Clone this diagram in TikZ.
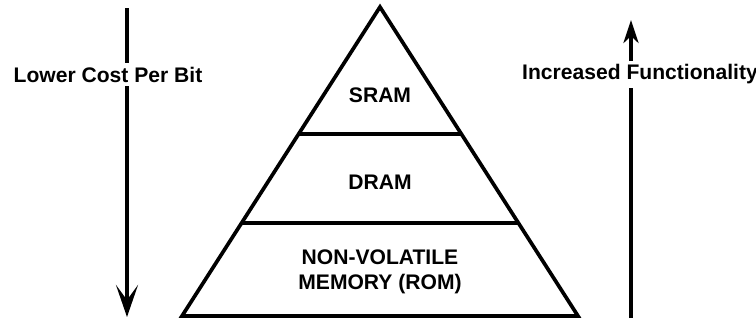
\documentclass[tikz,border=0pt]{standalone}
\usepackage{fontspec}
\setmainfont{Liberation Sans}
\usepackage{tikz}
\usetikzlibrary{arrows.meta,positioning,calc}
\tikzset{edge/.style={line width=2.1pt,line cap=butt,line join=miter},
  lbl/.style={font=\fontsize{12}{14}\selectfont\bfseries,align=center,inner sep=2pt},
  side/.style={lbl,fill=white,inner xsep=1pt}}

\begin{document}
\begin{tikzpicture}
  \useasboundingbox (0,0) rectangle (15.12,6.4);
  \coordinate (apex) at (7.6,6.26);
  \coordinate (bl) at (3.64,0.08);
  \coordinate (br) at (11.56,0.08);
  \draw[edge] (bl) -- (apex) -- (br) -- cycle;
  \draw[edge] ($(bl)!0.589!(apex)$) -- ($(br)!0.589!(apex)$);
  \draw[edge] ($(bl)!0.301!(apex)$) -- ($(br)!0.301!(apex)$);
  \node[lbl] (sram) at (7.6,4.5) {SRAM};
  \node[lbl] (dram) at (7.6,2.75) {DRAM};
  \node[lbl] (rom) at (7.6,0.96) {NON-VOLATILE\\MEMORY (ROM)};
  % cost and functionality arrows
  \coordinate (ctop) at (2.54,6.24);
  \coordinate (cbot) at (2.54,0.06);
  \coordinate (fbot) at (12.62,0.04);
  \coordinate (ftop) at (12.62,6.0);
  \draw[edge,-{Stealth[length=0.64cm,width=0.44cm,inset=0.3cm]}] (ctop) -- (cbot);
  \draw[edge,-{Stealth[length=0.46cm,width=0.3cm,inset=0.14cm]}] (fbot) -- (ftop);
  \node[side] (cost) at (2.16,4.91) {Lower Cost Per Bit};
  \node[side] (func) at (12.8,4.91) {Increased Functionality};
\end{tikzpicture}
\end{document}
